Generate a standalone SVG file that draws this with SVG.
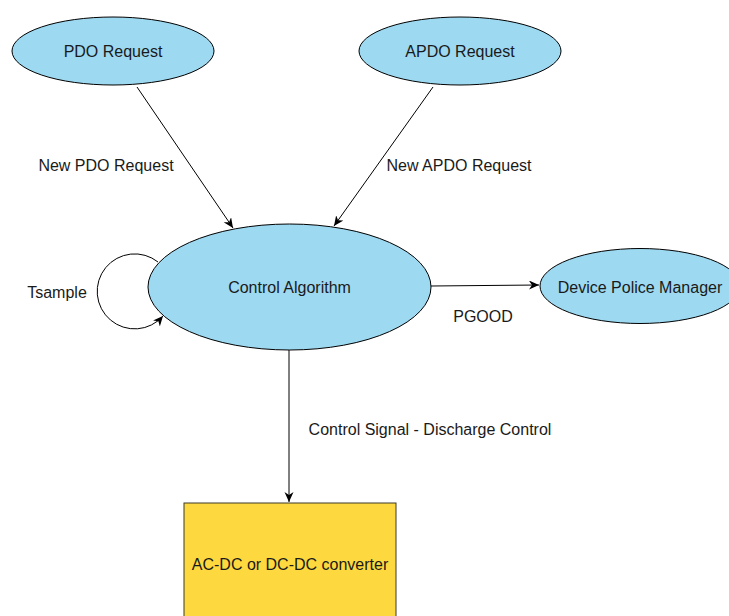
<svg xmlns="http://www.w3.org/2000/svg" width="729" height="616" viewBox="0 0 729 616">
  <style>
    .node { fill: #9dd9f1; stroke: #000; stroke-width: 1; }
    .box { fill: #fdd93f; stroke: #3a3a2a; stroke-width: 1; }
    text { font-family: "Liberation Sans", Arial, sans-serif; font-size: 16px; fill: #1a1a1a; }
    .c { text-anchor: middle; dominant-baseline: central; }
    .edge { fill: none; stroke: #000; stroke-width: 1; marker-end: url(#arrow); }
  </style>
  <defs>
    <marker id="arrow" markerUnits="userSpaceOnUse" markerWidth="12" markerHeight="10" refX="10" refY="4.5" orient="auto">
      <path d="M0,0 L10,4.5 L0,9 L3,4.5 Z" fill="#000"/>
    </marker>
  </defs>
  <rect width="729" height="616" fill="#fff"/>

  <!-- connectors -->
  <g id="connectors">
    <path class="edge" d="M137,87 L233,228"/>
    <path class="edge" d="M433,87 L334,226"/>
    <path class="edge" d="M431,286 L539,285"/>
    <path class="edge" d="M289,350 L289,502"/>
    <path class="edge" d="M158,262 A37.5,37.5 0 1 0 163,316"/>
    <text x="106" y="165" class="c">New PDO Request</text>
    <text x="459" y="165" class="c">New APDO Request</text>
    <text x="57" y="292" class="c">Tsample</text>
    <text x="483" y="316" class="c">PGOOD</text>
    <text x="430" y="429" class="c">Control Signal - Discharge Control</text>
  </g>

  <g id="pdo-request">
    <ellipse class="node" cx="113" cy="51" rx="101" ry="34"/>
    <text x="113" y="51" class="c">PDO Request</text>
  </g>

  <g id="apdo-request">
    <ellipse class="node" cx="460" cy="51" rx="101" ry="34"/>
    <text x="460" y="51" class="c">APDO Request</text>
  </g>

  <g id="control-algorithm">
    <ellipse class="node" cx="289.5" cy="287" rx="141.5" ry="63"/>
    <text x="289.5" y="287" class="c">Control Algorithm</text>
  </g>

  <g id="device-police-manager">
    <ellipse class="node" cx="640" cy="286" rx="100" ry="37.5"/>
    <text x="640" y="287" class="c">Device Police Manager</text>
  </g>

  <g id="converter">
    <rect class="box" x="184" y="503" width="212" height="122"/>
    <text x="290" y="564" class="c">AC-DC or DC-DC converter</text>
  </g>
</svg>
